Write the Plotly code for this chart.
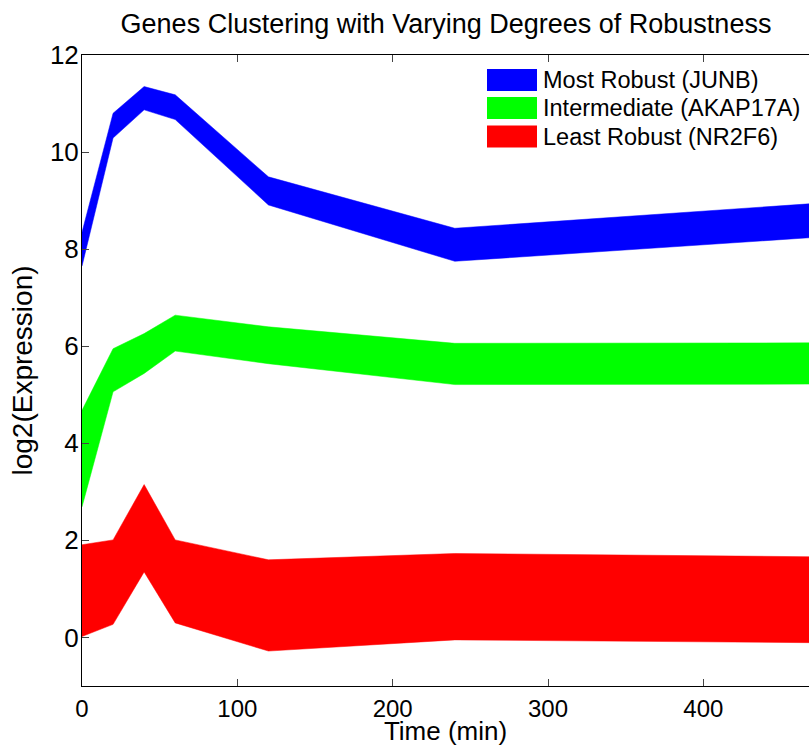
import plotly.graph_objects as go

time_min = [0, 20, 40, 60, 120, 240, 480]

junb_upper = [8.35, 10.80, 11.35, 11.18, 9.49, 8.43, 8.96]
junb_lower = [7.65, 10.29, 10.87, 10.67, 8.91, 7.75, 8.26]

akap_upper = [4.68, 5.95, 6.26, 6.64, 6.40, 6.06, 6.07]
akap_lower = [2.69, 5.06, 5.44, 5.90, 5.64, 5.21, 5.22]

nr2f6_upper = [1.91, 2.01, 3.15, 2.01, 1.60, 1.73, 1.66]
nr2f6_lower = [0.02, 0.27, 1.35, 0.30, -0.28, -0.05, -0.11]

legend_labels = ["Most Robust (JUNB)", "Intermediate (AKAP17A)", "Least Robust (NR2F6)"]
colors = ["#0000FF", "#00FF00", "#FF0000"]
uppers = [junb_upper, akap_upper, nr2f6_upper]
lowers = [junb_lower, akap_lower, nr2f6_lower]

W, H = 809, 746
ML, MR, MT, MB = 82, 0, 55, 60
PW, PH = W - ML - MR, H - MT - MB


def px_x(p):
    return (p - ML) / PW


def px_y(p):
    return (H - MB - p) / PH


fig = go.Figure()
for name, up, lo, col in zip(legend_labels, uppers, lowers, colors):
    fig.add_trace(go.Scatter(
        x=time_min + time_min[::-1],
        y=up + lo[::-1],
        fill="toself",
        fillcolor=col,
        mode="lines",
        line=dict(color=col, width=0.5),
        name=name,
        showlegend=False,
    ))

# legend drawn as swatches + text (MATLAB style)
row_centers = [80, 108, 136.5]
shapes = []
annotations = []
for name, col, yc in zip(legend_labels, colors, row_centers):
    shapes.append(dict(type="rect", xref="paper", yref="paper",
                       x0=px_x(487), x1=px_x(537), y0=px_y(yc + 11), y1=px_y(yc - 11),
                       fillcolor=col, line=dict(width=0)))
    annotations.append(dict(text=name, xref="paper", yref="paper",
                            x=px_x(541), y=px_y(yc), xanchor="left", yanchor="middle",
                            showarrow=False, font=dict(size=23.5)))

font = "Liberation Sans, Arial, Helvetica, sans-serif"
fig.update_layout(
    width=W, height=H,
    margin=dict(l=ML, r=MR, t=MT, b=MB),
    paper_bgcolor="white", plot_bgcolor="white",
    font=dict(family=font, size=26, color="black"),
    title=dict(text="Genes Clustering with Varying Degrees of Robustness",
               x=446 / W, xanchor="center", y=1 - 24 / H, yanchor="middle",
               yref="container", font=dict(size=27)),
    shapes=shapes,
    annotations=annotations,
    showlegend=False,
)
fig.update_xaxes(range=[0, 468], dtick=100, tick0=0, ticks="inside", ticklen=7,
                 showline=True, linecolor="black", linewidth=1, mirror="ticks",
                 showgrid=False, zeroline=False, ticklabelstandoff=1,
                 tickfont=dict(size=24), automargin=False,
                 title=dict(text="Time (min)", standoff=8, font=dict(size=26)))
fig.update_yaxes(range=[-1, 12], dtick=2, tick0=0, ticks="inside", ticklen=7,
                 showline=True, linecolor="black", linewidth=1,
                 showgrid=False, zeroline=False, ticklabelstandoff=-3,
                 automargin=False,
                 title=dict(text="log2(Expression)", standoff=9, font=dict(size=28)))

fig.write_html("out.html")
